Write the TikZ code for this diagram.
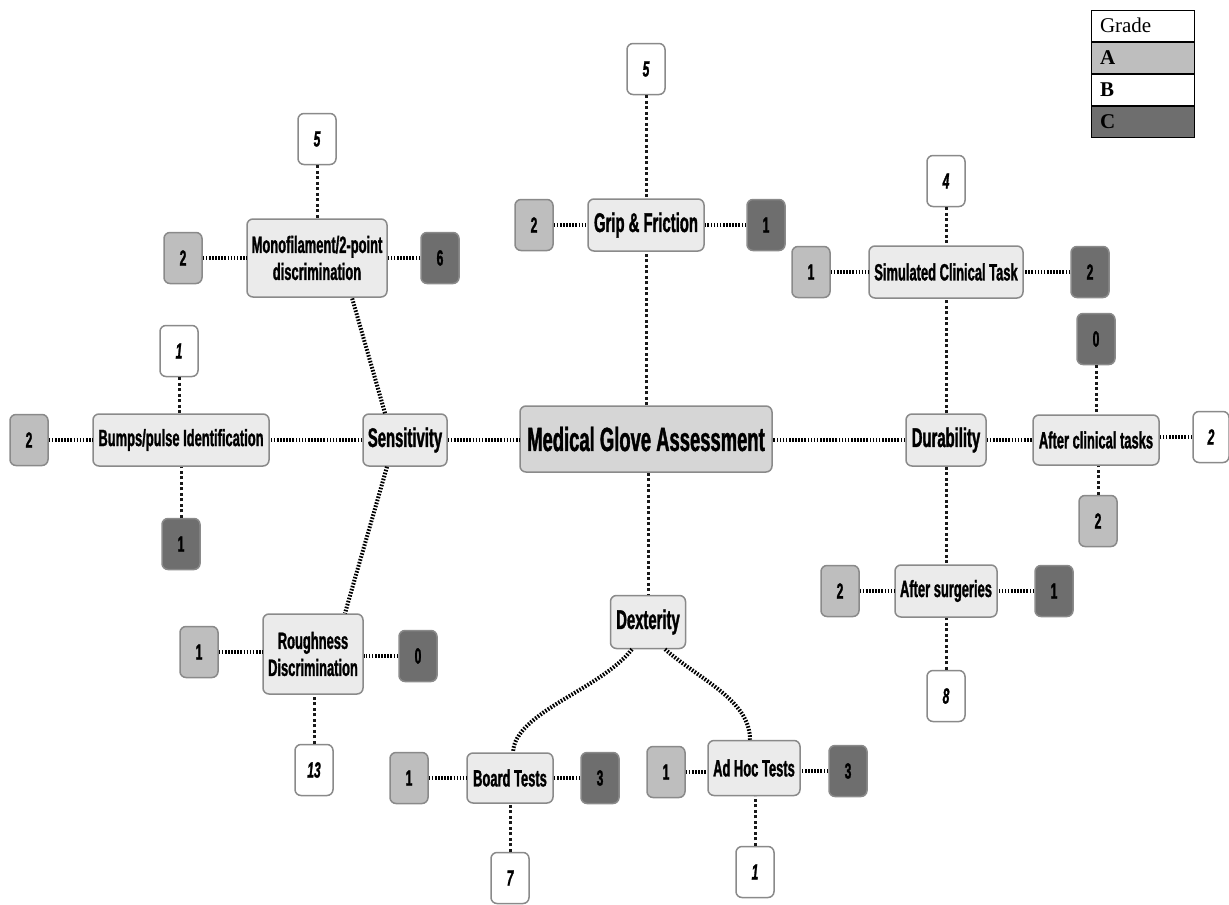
\documentclass[tikz,border=0pt]{standalone}
\usepackage{fontspec}
\newfontfamily\nar[FakeStretch=0.55, BoldFeatures={FakeBold=1.2}, BoldItalicFeatures={FakeBold=1.2}]{Liberation Sans}
\newfontfamily\tms{Liberation Serif}
\definecolor{nodefill}{HTML}{EBEBEB}
\definecolor{cenfill}{HTML}{D6D6D6}
\definecolor{gradeA}{HTML}{BEBEBE}
\definecolor{gradeC}{HTML}{6E6E6E}
\definecolor{bord}{HTML}{8A8A8A}
\tikzset{
  topic/.style={draw=bord, line width=1.5pt, fill=nodefill, rounded corners=6pt, align=center,
    inner sep=0pt, font=\nar\bfseries\fontsize{23.5}{27}\selectfont},
  midtopic/.style={topic, font=\nar\bfseries\fontsize{27}{30}\selectfont},
  centre/.style={topic, fill=cenfill, font=\nar\bfseries\fontsize{33.5}{36}\selectfont},
  cnt/.style={draw=bord, line width=1.5pt, rounded corners=6pt, minimum width=38pt,
    minimum height=51pt, inner sep=0pt, font=\nar\bfseries\fontsize{22}{24}\selectfont},
  cA/.style={cnt, fill=gradeA},
  cB/.style={cnt, fill=white, font=\nar\bfseries\itshape\fontsize{22}{24}\selectfont},
  cC/.style={cnt, fill=gradeC},
  conn/.style={draw=black, line width=4pt, dash pattern=on 1.6pt off 1.5pt},
  vconn/.style={draw=black!90, line width=3pt, dash pattern=on 3pt off 2.5pt},
  legcell/.style={draw=black, line width=1pt, minimum width=103pt, minimum height=31pt,
    text width=85pt, align=left, inner sep=0pt, font=\tms\fontsize{21}{23}\selectfont},
}
\begin{document}
\begin{tikzpicture}[x=1pt,y=-1pt]
\useasboundingbox (0,0) rectangle (1229,905);

% main nodes
\node[centre, minimum width=252pt, minimum height=66pt] (mga) at (646,439) {Medical Glove Assessment};
\node[midtopic, minimum width=84pt, minimum height=52pt] (sens) at (405,440) {Sensitivity};
\node[midtopic, minimum width=80pt, minimum height=52pt] (dur) at (946,440) {Durability};
\node[midtopic, minimum width=116pt, minimum height=52pt] (grip) at (646,225) {Grip \& Friction};
\node[midtopic, minimum width=75pt, minimum height=53pt] (dex) at (648,622) {Dexterity};

% sensitivity branch
\node[topic, minimum width=140pt, minimum height=78pt] (mono) at (317,258) {Monofilament/2-point\\discrimination};
\node[topic, minimum width=176pt, minimum height=52pt] (bump) at (181,440) {Bumps/pulse Identification};
\node[topic, minimum width=100pt, minimum height=80pt] (rough) at (313,654) {Roughness\\Discrimination};

% durability branch
\node[topic, minimum width=154pt, minimum height=52pt] (sim) at (946,272) {Simulated Clinical Task};
\node[topic, minimum width=126pt, minimum height=50pt] (aft) at (1096,440) {After clinical tasks};
\node[topic, minimum width=102pt, minimum height=52pt] (surg) at (946,591) {After surgeries};

% dexterity branch
\node[topic, minimum width=86pt, minimum height=50pt] (board) at (510,778) {Board Tests};
\node[topic, minimum width=92pt, minimum height=55pt] (adhoc) at (754,768) {Ad Hoc Tests};

% count boxes
\node[cB] (monoT) at (317,139) {5};
\node[cA] (monoL) at (183,258) {2};
\node[cC] (monoR) at (440,258) {6};

\node[cB] (gripT) at (646,69) {5};
\node[cA] (gripL) at (534,225) {2};
\node[cC] (gripR) at (766,225) {1};

\node[cB] (simT) at (946,181) {4};
\node[cA] (simL) at (811,272) {1};
\node[cC] (simR) at (1090,272) {2};

\node[cB] (bumpT) at (179,351) {1};
\node[cA] (bumpL) at (29,440) {2};
\node[cC] (bumpB) at (181,544) {1};

\node[cC] (aftT) at (1096,339) {0};
\node[cB, minimum width=36pt] (aftR) at (1211,437) {2};
\node[cA] (aftB) at (1098,521) {2};

\node[cA] (surgL) at (840,591) {2};
\node[cC] (surgR) at (1054,591) {1};
\node[cB] (surgB) at (946,696) {8};

\node[cA] (roughL) at (199,652) {1};
\node[cC] (roughR) at (418,656) {0};
\node[cB] (roughB) at (314,770) {13};

\node[cA] (boardL) at (409,778) {1};
\node[cC] (boardR) at (600,778) {3};
\node[cB] (boardB) at (510,878) {7};

\node[cA] (adhocL) at (666,772) {1};
\node[cC] (adhocR) at (848,771) {3};
\node[cB] (adhocB) at (755,872) {1};

% connectors: main
\draw[conn] (sens) -- (sens -| mga.west);
\draw[conn] (dur) -- (dur -| mga.east);
\draw[vconn] (mga) -- (grip);
\draw[vconn] (mga.south -| dex.north) -- (dex);
\draw[conn] (sens) -- (bump);
\draw[conn] ([xshift=-20pt]sens.north) -- ([xshift=35pt]mono.south);
\draw[conn] ([xshift=-18pt]sens.south) -- ([xshift=32pt]rough.north);
\draw[conn] (dur) -- (aft);
\draw[vconn] (dur) -- (sim);
\draw[vconn] (dur) -- (surg);
\draw[conn] ([xshift=-16pt]dex.south) .. controls (600,690) and (515,712) .. ([xshift=3pt]board.north);
\draw[conn] ([xshift=17pt]dex.south) .. controls (700,680) and (750,700) .. ([xshift=-4pt]adhoc.north);

% connectors: counts
\draw[vconn] (monoT) -- (monoT |- mono.north);
\draw[conn] (monoL) -- (mono);
\draw[conn] (monoR) -- (mono);
\draw[vconn] (gripT) -- (grip);
\draw[conn] (gripL) -- (grip);
\draw[conn] (gripR) -- (grip);
\draw[vconn] (simT) -- (sim);
\draw[conn] (simL) -- (sim);
\draw[conn] (simR) -- (sim);
\draw[vconn] (bumpT) -- (bumpT |- bump.north);
\draw[conn] (bumpL) -- (bump);
\draw[vconn] (bumpB) -- (bump);
\draw[vconn] (aftT) -- (aft);
\draw[conn] (aftR) -- (aftR -| aft.east);
\draw[vconn] (aftB) -- (aftB |- aft.south);
\draw[conn] (surgL) -- (surg);
\draw[conn] (surgR) -- (surg);
\draw[vconn] (surgB) -- (surg);
\draw[conn] (roughL) -- (roughL -| rough.west);
\draw[conn] (roughR) -- (roughR -| rough.east);
\draw[vconn] (roughB) -- (roughB |- rough.south);
\draw[conn] (boardL) -- (board);
\draw[conn] (boardR) -- (board);
\draw[vconn] (boardB) -- (board);
\draw[conn] (adhocL) -- (adhocL -| adhoc.west);
\draw[conn] (adhocR) -- (adhocR -| adhoc.east);
\draw[vconn] (adhocB) -- (adhocB |- adhoc.south);

% legend
\node[legcell, fill=white] (lg) at (1142.5,25.5) {Grade};
\node[legcell, fill=gradeA, font=\tms\bfseries\fontsize{21}{23}\selectfont, anchor=north] (lgA) at (lg.south) {A};
\node[legcell, fill=white, font=\tms\bfseries\fontsize{21}{23}\selectfont, anchor=north] (lgB) at (lgA.south) {B};
\node[legcell, fill=gradeC, font=\tms\bfseries\fontsize{21}{23}\selectfont, anchor=north] (lgC) at (lgB.south) {C};
\end{tikzpicture}
\end{document}
